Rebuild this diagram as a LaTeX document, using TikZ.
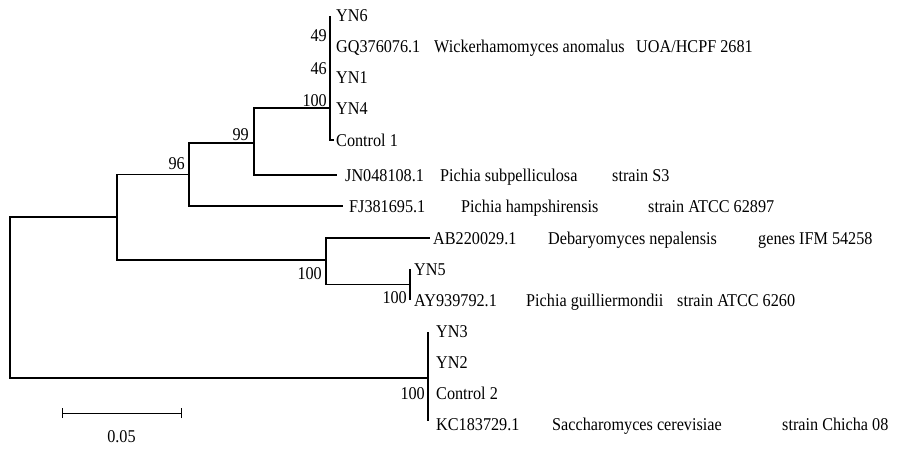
\documentclass[tikz,border=0pt]{standalone}
\usepackage{fontspec}
\setmainfont{Liberation Serif}[FakeStretch=0.9]
\begin{document}
\begin{tikzpicture}[x=1pt,y=-1pt,
  br/.style={draw=black,line width=1.1pt},
  lab/.style={inner sep=0pt,anchor=base west,yshift=-6.3pt,font=\fontsize{18}{20}\selectfont},
  boot/.style={inner sep=0pt,anchor=base east,yshift=-6.3pt,font=\fontsize{18}{20}\selectfont}]
\useasboundingbox (0,0) rectangle (915,448);
% internal nodes
\coordinate (R) at (10,297.5);
\coordinate (N1) at (117,217);
\coordinate (N96) at (189,174.5);
\coordinate (N99) at (254,143);
\coordinate (Ntop) at (330,108);
\coordinate (Nd) at (326,260);
\coordinate (Ny) at (410,284.5);
\coordinate (N2) at (428,378);
% tips
\coordinate (t1) at (330,16);
\coordinate (t5) at (330,140);
\coordinate (JNt) at (337,175);
\coordinate (FJt) at (343,206);
\coordinate (ABt) at (430,238);
\coordinate (y5) at (410,269);
\coordinate (ay) at (410,300);
\coordinate (b1) at (428,332);
\coordinate (b4) at (428,421);
% branches
\draw[br] (R) |- (N1);
\draw[br] (R) |- (N2);
\draw[br] (N1) |- (N96);
\draw[br] (N1) |- (Nd);
\draw[br] (N96) |- (N99);
\draw[br] (N96) |- (FJt);
\draw[br] (N99) |- (Ntop);
\draw[br] (N99) |- (JNt);
\draw[br] (t1) -- (t5) -- ++(4,0);
\draw[br] (Nd) |- (ABt);
\draw[br] (Nd) |- (Ny);
\draw[br] (y5) -- (ay);
\draw[br] (b1) -- (b4);
% bootstrap values
\node[boot] (b49) at (327,35) {49};
\node[boot] (b46) at (327,68) {46};
\node[boot] (b100a) at (327,100) {100};
\node[boot] (b99) at (249,134) {99};
\node[boot] (b96) at (185,163) {96};
\node[boot] (b100b) at (322,273) {100};
\node[boot] (b100c) at (407,297) {100};
\node[boot] (b100d) at (425,393) {100};
% tip labels
\node[lab] (YN6) at (336,15) {YN6};
\node[lab] (GQa) at (336,46) {GQ376076.1};
\node[lab] (GQb) at (434,46) {Wickerhamomyces anomalus};
\node[lab] (GQc) at (636,46) {UOA/HCPF 2681};
\node[lab] (YN1) at (336,77) {YN1};
\node[lab] (YN4) at (336,108) {YN4};
\node[lab] (C1) at (336,140) {Control 1};
\node[lab] (JNa) at (345,175) {JN048108.1};
\node[lab] (JNb) at (440,175) {Pichia subpelliculosa};
\node[lab] (JNc) at (612,175) {strain S3};
\node[lab] (FJa) at (349,206) {FJ381695.1};
\node[lab] (FJb) at (461,206) {Pichia hampshirensis};
\node[lab] (FJc) at (648,206) {strain ATCC 62897};
\node[lab] (ABa) at (433,238) {AB220029.1};
\node[lab] (ABb) at (548,238) {Debaryomyces nepalensis};
\node[lab] (ABc) at (758,238) {genes IFM 54258};
\node[lab] (YN5) at (414,269) {YN5};
\node[lab] (AYa) at (414,300) {AY939792.1};
\node[lab] (AYb) at (526,300) {Pichia guilliermondii};
\node[lab] (AYc) at (677,300) {strain ATCC 6260};
\node[lab] (YN3) at (436,331) {YN3};
\node[lab] (YN2) at (436,362) {YN2};
\node[lab] (C2) at (436,393) {Control 2};
\node[lab] (KCa) at (436,424) {KC183729.1};
\node[lab] (KCb) at (552,424) {Saccharomyces cerevisiae};
\node[lab] (KCc) at (782,424) {strain Chicha 08};
% scale bar
\coordinate (sL) at (62,413);
\coordinate (sR) at (181,413);
\draw[br,line width=1pt] (sL) -- (sR);
\draw[br,line width=1pt] ([yshift=-5pt]sL) -- ([yshift=5pt]sL);
\draw[br,line width=1pt] ([yshift=-5pt]sR) -- ([yshift=5pt]sR);
\node[inner sep=0pt,anchor=base,font=\fontsize{18}{20}\selectfont] (sc) at (121.5,442) {0.05};
\end{tikzpicture}
\end{document}
